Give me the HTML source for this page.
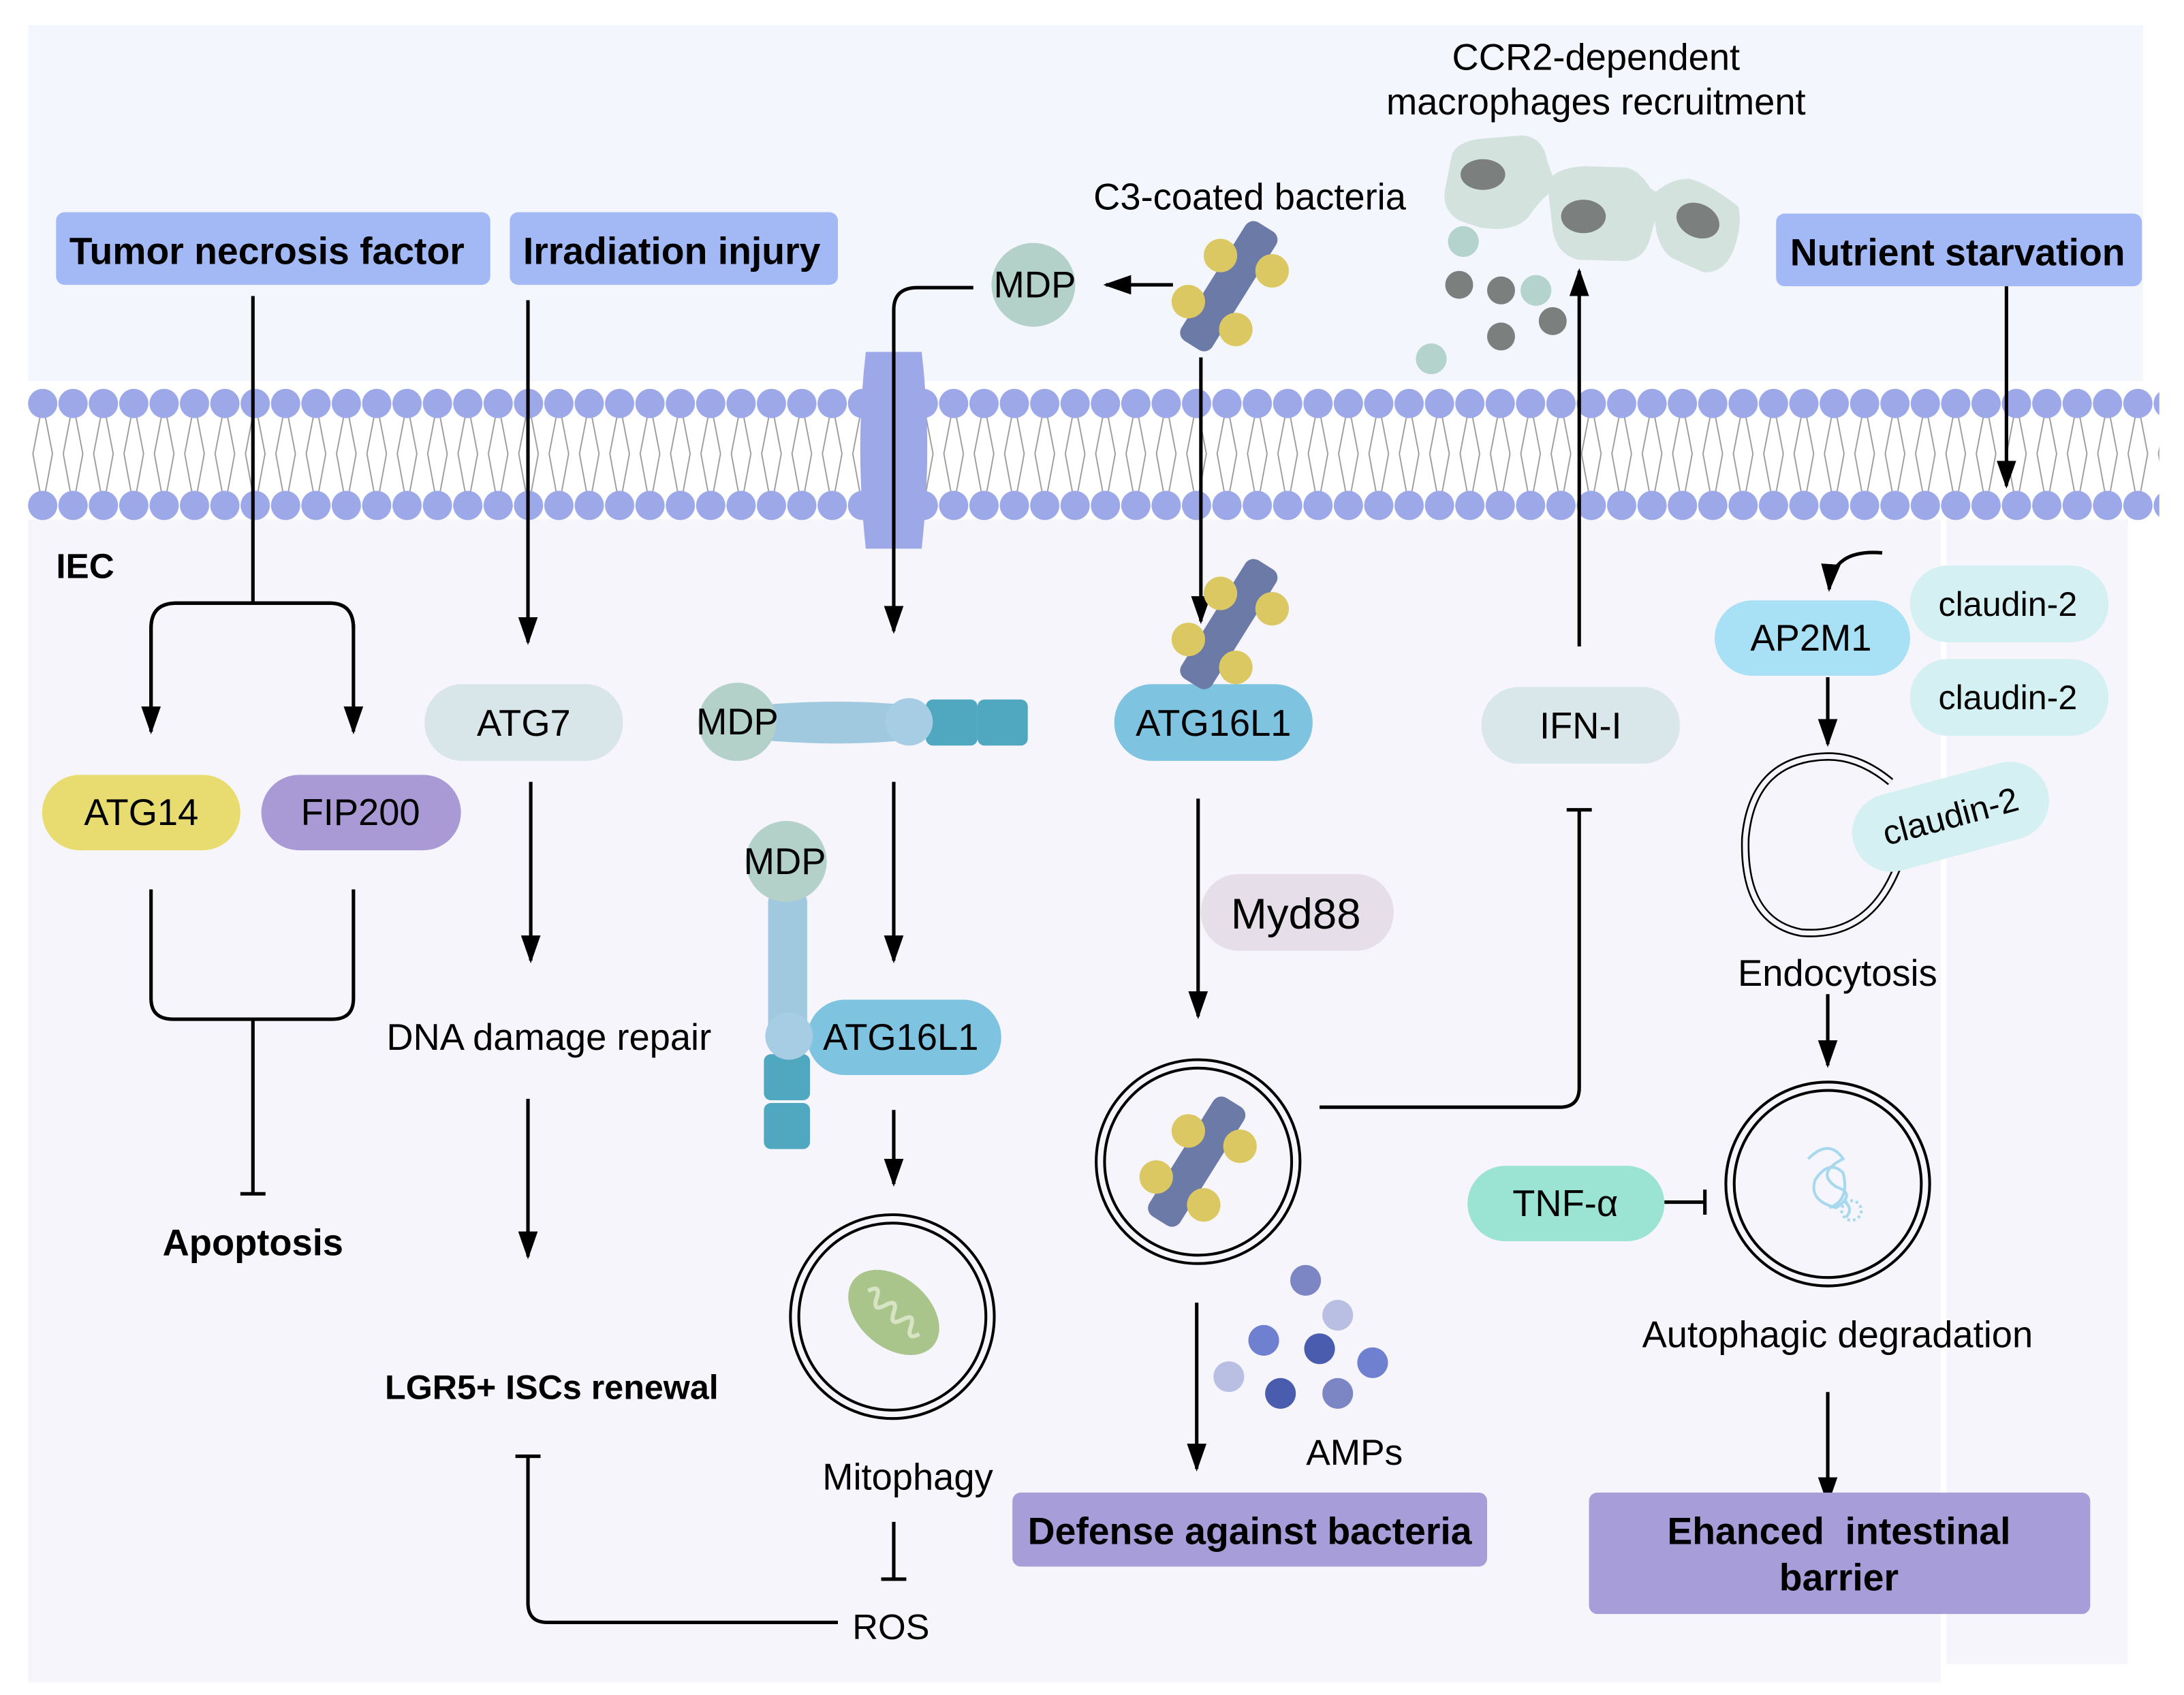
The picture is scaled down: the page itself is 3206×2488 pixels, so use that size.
<!DOCTYPE html>
<html><head><meta charset="utf-8"><style>html,body{margin:0;padding:0;background:#fff}svg{display:block}text{font-family:"Liberation Sans",sans-serif}</style></head><body>
<svg width="3206" height="2488" viewBox="0 0 1564 1214" xmlns="http://www.w3.org/2000/svg">
<defs>
<marker id="a" viewBox="0 0 20 14" refX="18" refY="7" markerWidth="20" markerHeight="14" markerUnits="userSpaceOnUse" orient="auto"><path d="M0,0 L20,7 L0,14 z" fill="#000"/></marker>
<g id="bac"><rect x="-13" y="-50" width="26" height="100" rx="7" fill="#6b7aa6" transform="rotate(32)"/><circle cx="-6" cy="-22" r="12" fill="#dcc863"/><circle cx="31" cy="-11" r="12" fill="#dcc863"/><circle cx="-29" cy="11" r="12" fill="#dcc863"/><circle cx="5" cy="31" r="12" fill="#dcc863"/></g>
<pattern id="mp" x="19.5" y="0" width="21.75" height="1214" patternUnits="userSpaceOnUse">
<path d="M8.9,299 L3.9,325 L8.9,352 M12.9,299 L17.9,325 L12.9,352" fill="none" stroke="#999" stroke-width="0.9"/>
<circle cx="10.9" cy="289" r="10.5" fill="#9ca8e8"/><circle cx="10.9" cy="362" r="10.5" fill="#9ca8e8"/>
</pattern>
</defs>
<rect x="0" y="0" width="1564" height="1214" fill="#fff"/>
<rect x="20" y="18" width="1515" height="255" fill="#f3f6fd"/>
<rect x="20" y="372" width="1370" height="833" fill="#f5f5fb"/>
<rect x="1394" y="372" width="130" height="820" fill="#f5f5fb"/>
<rect x="19.5" y="276" width="1527" height="98" fill="url(#mp)"/>
<path d="M620,252 H660 Q668,320 660,393 H620 Q612,320 620,252 z" fill="#9ca8e8"/>
<g stroke="#000" stroke-width="2.5" fill="none">
<path d="M181,212 V432"/>
<path d="M108,524 V450 Q108,432 126,432 H236 Q253,432 253,450 V524" marker-end="url(#a)"/>
<path d="M253,450 V450 Q253,432 236,432 H126 Q108,432 108,450 V524" marker-end="url(#a)"/>
<path d="M108,637 V715 Q108,730 124,730 H238 Q253,730 253,715 V637"/>
<path d="M181,730 V855 M172,855 H190"/>
<path d="M378,215 V460" marker-end="url(#a)"/>
<path d="M380,560 V688" marker-end="url(#a)"/>
<path d="M378,787 V900" marker-end="url(#a)"/>
<path d="M369,1043 H387 M378,1043 V1148 Q378,1162 392,1162 H600"/>
<path d="M840,204 H792" marker-end="url(#a)"/>
<path d="M697,206 H657 Q640,206 640,222 V452" marker-end="url(#a)"/>
<path d="M640,560 V688" marker-end="url(#a)"/>
<path d="M640,795 V848" marker-end="url(#a)"/>
<path d="M640,1090 V1131 M631,1131 H649"/>
<path d="M860,256 V445" marker-end="url(#a)"/>
<path d="M858,572 V728" marker-end="url(#a)"/>
<path d="M945,793 H1117 Q1131,793 1131,779 V580 M1122,580 H1140"/>
<path d="M1131,463 V194" marker-end="url(#a)"/>
<path d="M857,933 V1052" marker-end="url(#a)"/>
<path d="M1437,205 V348" marker-end="url(#a)"/>
<path d="M1348,396 Q1312,393 1310,422" marker-end="url(#a)"/>
<path d="M1309,485 V533" marker-end="url(#a)"/>
<path d="M1309,712 V763" marker-end="url(#a)"/>
<path d="M1192,861 H1220 M1221,852 V870"/>
<path d="M1309,997 V1076" marker-end="url(#a)"/>
</g>
<rect x="40" y="152" width="311" height="52" rx="6" fill="#a3b9f5"/>
<text x="191" y="189" font-size="27" font-weight="bold" text-anchor="middle">Tumor necrosis factor</text>
<rect x="365" y="152" width="235" height="52" rx="6" fill="#a3b9f5"/>
<text x="481" y="189" font-size="27" font-weight="bold" text-anchor="middle">Irradiation injury</text>
<rect x="1272" y="153" width="262" height="52" rx="6" fill="#a3b9f5"/>
<text x="1402" y="190" font-size="27" font-weight="bold" text-anchor="middle">Nutrient starvation</text>
<text x="40" y="414" font-size="25" font-weight="bold">IEC</text>
<rect x="30" y="555" width="142" height="54" rx="27" fill="#e8dc70"/>
<text x="101" y="591" font-size="26.5" text-anchor="middle">ATG14</text>
<rect x="187" y="555" width="143" height="54" rx="27" fill="#a99ad6"/>
<text x="258" y="591" font-size="26.5" text-anchor="middle">FIP200</text>
<text x="181" y="899" font-size="26.5" font-weight="bold" text-anchor="middle">Apoptosis</text>
<rect x="304" y="490" width="142" height="55" rx="27" fill="#d8e6ea"/>
<text x="375" y="527" font-size="26.5" text-anchor="middle">ATG7</text>
<text x="393" y="752" font-size="26.5" text-anchor="middle">DNA damage repair</text>
<text x="395" y="1002" font-size="24.5" font-weight="bold" text-anchor="middle">LGR5+ ISCs renewal</text>
<text x="638" y="1174" font-size="25.5" text-anchor="middle">ROS</text>
<circle cx="740" cy="204" r="30" fill="#b3d1c9"/>
<text x="741" y="213" font-size="26.5" text-anchor="middle">MDP</text>
<text x="895" y="150" font-size="26.5" text-anchor="middle">C3-coated bacteria</text>
<use href="#bac" x="880" y="205"/>
<path d="M545,505 Q600,500 650,505 L650,530 Q600,535 545,530 z" fill="#a0c9e0"/>
<circle cx="528" cy="517" r="28" fill="#b3d1c9"/>
<text x="528" y="526" font-size="26.5" text-anchor="middle">MDP</text>
<rect x="663" y="501" width="37" height="33" rx="5" fill="#4fa8bf"/>
<rect x="700" y="501" width="36" height="33" rx="5" fill="#4fa8bf"/>
<circle cx="651" cy="517" r="17" fill="#a6cde3"/>
<rect x="550" y="638" width="28" height="110" rx="8" fill="#a0c9e0"/>
<circle cx="563" cy="617" r="29" fill="#b3d1c9"/>
<text x="562" y="626" font-size="26.5" text-anchor="middle">MDP</text>
<rect x="547" y="755" width="33" height="33" rx="5" fill="#4fa8bf"/>
<rect x="547" y="790" width="33" height="33" rx="5" fill="#4fa8bf"/>
<rect x="578" y="716" width="139" height="54" rx="27" fill="#7ec3e0"/>
<circle cx="565" cy="742" r="17" fill="#a6cde3"/>
<text x="645" y="752" font-size="26.5" text-anchor="middle">ATG16L1</text>
<circle cx="639" cy="943" r="73" fill="none" stroke="#000" stroke-width="2"/>
<circle cx="639" cy="943" r="67" fill="none" stroke="#000" stroke-width="2"/>
<g transform="translate(640,940) rotate(40)"><ellipse rx="37" ry="25" fill="#a9c58b"/><path d="M-24,0 q4,-10 8,0 q4,10 8,0 q4,-10 8,0 q4,10 8,0 q4,-10 8,0 q4,10 8,0" fill="none" stroke="#d6e4c3" stroke-width="3"/></g>
<text x="650" y="1067" font-size="26.5" text-anchor="middle">Mitophagy</text>
<rect x="798" y="490" width="142" height="55" rx="27" fill="#7ec3e0"/>
<use href="#bac" x="880" y="447"/>
<text x="869" y="527" font-size="26.5" text-anchor="middle">ATG16L1</text>
<rect x="860" y="626" width="138" height="55" rx="27" fill="#e6dfea"/>
<text x="928" y="665" font-size="31" text-anchor="middle">Myd88</text>
<circle cx="858" cy="832" r="73" fill="none" stroke="#000" stroke-width="2"/>
<circle cx="858" cy="832" r="67" fill="none" stroke="#000" stroke-width="2"/>
<use href="#bac" x="857" y="832"/>
<g>
<circle cx="935" cy="917" r="11" fill="#7d86c4"/><circle cx="958" cy="942" r="11" fill="#b9bfe2"/><circle cx="905" cy="960" r="11" fill="#6f80d0"/><circle cx="945" cy="966" r="11" fill="#4a5cad"/><circle cx="983" cy="976" r="11" fill="#6f80d0"/><circle cx="880" cy="986" r="11" fill="#b9bfe2"/><circle cx="917" cy="998" r="11" fill="#4a5cad"/><circle cx="958" cy="998" r="11" fill="#7d86c4"/>
</g>
<text x="970" y="1049" font-size="26" text-anchor="middle">AMPs</text>
<rect x="725" y="1069" width="340" height="53" rx="6" fill="#a79ed9"/>
<text x="895" y="1106" font-size="27" font-weight="bold" text-anchor="middle">Defense against bacteria</text>
<rect x="1061" y="492" width="142" height="55" rx="27" fill="#d9e6ea"/>
<text x="1132" y="529" font-size="26.5" text-anchor="middle">IFN-I</text>
<g fill="#d4e2de">
<path d="M1040,110 Q1045,100 1065,99 L1090,97 Q1105,98 1108,115 L1115,135 Q1105,140 1095,155 Q1085,167 1060,163 L1045,158 Q1032,150 1035,135 z"/>
<path d="M1108,130 Q1115,120 1135,119 L1165,120 Q1175,123 1182,135 L1190,140 L1182,170 Q1178,185 1165,187 L1130,186 Q1115,182 1112,165 z"/>
<path d="M1183,140 Q1195,128 1210,128 Q1225,132 1245,148 Q1248,160 1242,178 Q1235,196 1220,195 L1200,186 Q1190,182 1186,165 z"/>
</g>
<g fill="#7b807f">
<ellipse cx="1062" cy="125" rx="16" ry="11"/><ellipse cx="1134" cy="155" rx="16" ry="12"/><ellipse cx="1216" cy="158" rx="16" ry="12" transform="rotate(25 1216 158)"/>
<circle cx="1045" cy="204" r="10"/><circle cx="1075" cy="208" r="10"/><circle cx="1075" cy="241" r="10"/><circle cx="1112" cy="230" r="10"/>
</g>
<g fill="#b4d3cd"><circle cx="1048" cy="173" r="11"/><circle cx="1100" cy="208" r="11"/><circle cx="1025" cy="257" r="11"/></g>
<text x="1143" y="50" font-size="26.5" text-anchor="middle">CCR2-dependent</text>
<text x="1143" y="82" font-size="26.5" text-anchor="middle">macrophages recruitment</text>
<rect x="1368" y="405" width="142" height="55" rx="27" fill="#d5f0f2"/>
<text x="1438" y="441" font-size="24.5" text-anchor="middle">claudin-2</text>
<rect x="1368" y="472" width="142" height="55" rx="27" fill="#d5f0f2"/>
<text x="1438" y="508" font-size="24.5" text-anchor="middle">claudin-2</text>
<rect x="1228" y="430" width="140" height="54" rx="27" fill="#a8e0f5"/>
<text x="1297" y="466" font-size="26.5" text-anchor="middle">AP2M1</text>
<path d="M1354,560 Q1330,540 1305,542 Q1255,545 1250,600 Q1248,660 1290,668 Q1340,672 1360,618" fill="none" stroke="#000" stroke-width="6"/>
<path d="M1354,560 Q1330,540 1305,542 Q1255,545 1250,600 Q1248,660 1290,668 Q1340,672 1360,618" fill="none" stroke="#f5f5fb" stroke-width="3.5"/>
<g transform="translate(1397,585) rotate(-15)"><rect x="-72" y="-28" width="144" height="56" rx="28" fill="#d5f0f2"/><text x="0" y="8" font-size="24.5" text-anchor="middle">claudin-2</text></g>
<text x="1316" y="706" font-size="26.5" text-anchor="middle">Endocytosis</text>
<circle cx="1309" cy="848" r="73" fill="none" stroke="#000" stroke-width="2"/>
<circle cx="1309" cy="848" r="67" fill="none" stroke="#000" stroke-width="2"/>
<path d="M1295,830 q15,-15 25,0 q-20,10 -5,20 q15,5 0,15 q-20,-5 -15,-20 q10,-15 20,-5 q5,20 -10,25 M1320,860 q8,5 2,12" fill="none" stroke="#a8d8ee" stroke-width="2"/>
<circle cx="1326" cy="867" r="7" fill="none" stroke="#a8d8ee" stroke-width="2" stroke-dasharray="2 2"/>
<rect x="1051" y="835" width="141" height="54" rx="27" fill="#9be3d3"/>
<text x="1121" y="871" font-size="26.5" text-anchor="middle">TNF-α</text>
<text x="1316" y="965" font-size="26.5" text-anchor="middle">Autophagic degradation</text>
<rect x="1138" y="1069" width="359" height="87" rx="6" fill="#a79ed9"/>
<text x="1317" y="1106" font-size="27" font-weight="bold" text-anchor="middle" xml:space="preserve">Ehanced  intestinal</text>
<text x="1317" y="1139" font-size="27" font-weight="bold" text-anchor="middle">barrier</text>
</svg>
</body></html>
